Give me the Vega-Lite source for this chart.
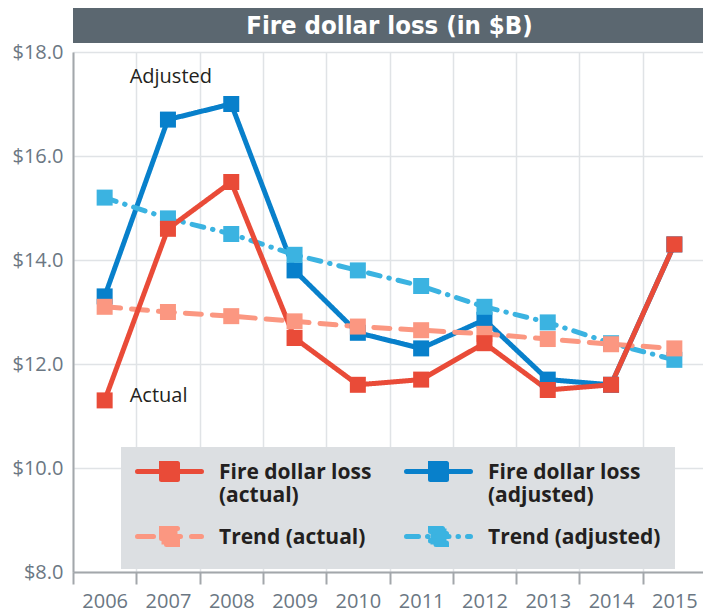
{
  "$schema": "https://vega.github.io/schema/vega-lite/v6.json",
  "width": 633,
  "height": 520,
  "autosize": {"type": "none"},
  "padding": {"left": 73, "top": 52, "right": 0, "bottom": 41},
  "background": "white",
  "config": {"font": "Open Sans", "view": {"stroke": null}},
  "datasets": {
    "series": [
      {"year": "2006", "series": "Fire dollar loss (adjusted)", "value": 13.3},
      {"year": "2007", "series": "Fire dollar loss (adjusted)", "value": 16.7},
      {"year": "2008", "series": "Fire dollar loss (adjusted)", "value": 17.0},
      {"year": "2009", "series": "Fire dollar loss (adjusted)", "value": 13.8},
      {"year": "2010", "series": "Fire dollar loss (adjusted)", "value": 12.6},
      {"year": "2011", "series": "Fire dollar loss (adjusted)", "value": 12.3},
      {"year": "2012", "series": "Fire dollar loss (adjusted)", "value": 12.85},
      {"year": "2013", "series": "Fire dollar loss (adjusted)", "value": 11.7},
      {"year": "2014", "series": "Fire dollar loss (adjusted)", "value": 11.6},
      {"year": "2015", "series": "Fire dollar loss (adjusted)", "value": 14.3},
      {"year": "2006", "series": "Trend (adjusted)", "value": 15.2},
      {"year": "2007", "series": "Trend (adjusted)", "value": 14.8},
      {"year": "2008", "series": "Trend (adjusted)", "value": 14.5},
      {"year": "2009", "series": "Trend (adjusted)", "value": 14.1},
      {"year": "2010", "series": "Trend (adjusted)", "value": 13.8},
      {"year": "2011", "series": "Trend (adjusted)", "value": 13.5},
      {"year": "2012", "series": "Trend (adjusted)", "value": 13.1},
      {"year": "2013", "series": "Trend (adjusted)", "value": 12.8},
      {"year": "2014", "series": "Trend (adjusted)", "value": 12.4},
      {"year": "2015", "series": "Trend (adjusted)", "value": 12.08},
      {"year": "2006", "series": "Trend (actual)", "value": 13.1},
      {"year": "2007", "series": "Trend (actual)", "value": 13.0},
      {"year": "2008", "series": "Trend (actual)", "value": 12.92},
      {"year": "2009", "series": "Trend (actual)", "value": 12.82},
      {"year": "2010", "series": "Trend (actual)", "value": 12.72},
      {"year": "2011", "series": "Trend (actual)", "value": 12.65},
      {"year": "2012", "series": "Trend (actual)", "value": 12.58},
      {"year": "2013", "series": "Trend (actual)", "value": 12.48},
      {"year": "2014", "series": "Trend (actual)", "value": 12.38},
      {"year": "2015", "series": "Trend (actual)", "value": 12.3},
      {"year": "2006", "series": "Fire dollar loss (actual)", "value": 11.3},
      {"year": "2007", "series": "Fire dollar loss (actual)", "value": 14.6},
      {"year": "2008", "series": "Fire dollar loss (actual)", "value": 15.5},
      {"year": "2009", "series": "Fire dollar loss (actual)", "value": 12.5},
      {"year": "2010", "series": "Fire dollar loss (actual)", "value": 11.6},
      {"year": "2011", "series": "Fire dollar loss (actual)", "value": 11.7},
      {"year": "2012", "series": "Fire dollar loss (actual)", "value": 12.4},
      {"year": "2013", "series": "Fire dollar loss (actual)", "value": 11.5},
      {"year": "2014", "series": "Fire dollar loss (actual)", "value": 11.6},
      {"year": "2015", "series": "Fire dollar loss (actual)", "value": 14.3}
    ]
  },
  "layer": [
    {
      "data": {"values": [{"t": "Fire dollar loss (in $B)"}]},
      "mark": {"type": "rect", "color": "#5b6770"},
      "encoding": {
        "y": {"datum": 18.846, "type": "quantitative"},
        "y2": {"datum": 18.173}
      }
    },
    {
      "data": {"values": [{"t": "Fire dollar loss (in $B)"}]},
      "mark": {"type": "text", "color": "white", "fontSize": 25.5, "fontWeight": "bold", "font": "'DejaVu Sans Condensed', Roboto", "baseline": "middle", "align": "center"},
      "encoding": {
        "y": {"datum": 18.5, "type": "quantitative"},
        "text": {"field": "t"}
      }
    },
    {
      "data": {"name": "series"},
      "mark": {"type": "line", "strokeWidth": 5, "strokeCap": "round"},
      "encoding": {
        "x": {
          "field": "year", "type": "ordinal",
          "scale": {"type": "band", "paddingInner": 0, "paddingOuter": 0},
          "axis": {
            "title": null, "tickBand": "extent", "labelAngle": 0,
            "domainColor": "#a3a7ab", "domainWidth": 2,
            "tickColor": "#a3a7ab", "tickWidth": 2, "tickSize": 12,
            "labelFontSize": 20, "labelColor": "#6b7783", "labelPadding": 7,
            "grid": true, "gridColor": "#e0e3e6", "gridWidth": 1.5
          }
        },
        "y": {
          "field": "value", "type": "quantitative",
          "scale": {"domain": [8, 18], "nice": false, "zero": false},
          "axis": {
            "title": null, "values": [8, 10, 12, 14, 16, 18], "format": "$.1f",
            "ticks": false, "labelPadding": 10,
            "domainColor": "#a3a7ab", "domainWidth": 2,
            "labelFontSize": 20, "labelColor": "#6b7783",
            "grid": true, "gridColor": "#e0e3e6", "gridWidth": 1.5
          }
        },
        "color": {
          "field": "series", "type": "nominal",
          "scale": {
            "domain": ["Fire dollar loss (actual)", "Trend (actual)", "Fire dollar loss (adjusted)", "Trend (adjusted)"],
            "range": ["#e94b38", "#fb9781", "#0880cb", "#3bb3e1"]
          },
          "legend": {
            "orient": "none", "legendX": 48, "legendY": 395,
            "columns": 2, "title": null,
            "fillColor": "#dcdfe2", "padding": 14,
            "symbolType": "M-4,0L4,0M-1,-1H1V1H-1Z",
            "symbolSize": 256, "symbolStrokeWidth": 5, "symbolOffset": 24,
            "labelFontSize": 21, "labelFontWeight": "bold", "labelColor": "#231f20",
            "labelOffset": 39, "columnPadding": 24, "rowPadding": 12, "labelLimit": 300,
            "labelBaseline": "alphabetic",
            "labelExpr": "split(replace(datum.label, 'loss (', 'loss|('), '|')",
            "encode": {
              "symbols": {"update": {"fill": {"scale": "color", "field": "value"}, "strokeCap": {"value": "round"}}},
              "labels": {"update": {"dy": {"value": 7.5}}}
            }
          }
        },
        "strokeDash": {
          "field": "series", "type": "nominal",
          "scale": {
            "domain": ["Fire dollar loss (actual)", "Trend (actual)", "Fire dollar loss (adjusted)", "Trend (adjusted)"],
            "range": [[1, 0], [16, 11], [1, 0], [12, 9, 0.5, 9]]
          }
        }
      }
    },
    {
      "data": {"name": "series"},
      "mark": {"type": "point", "shape": "square", "filled": true, "size": 256, "opacity": 1},
      "encoding": {
        "x": {"field": "year", "type": "ordinal"},
        "y": {"field": "value", "type": "quantitative"},
        "color": {"field": "series", "type": "nominal", "legend": null}
      }
    },
    {
      "data": {"values": [
        {"label": "Adjusted", "year": "2006", "value": 17.52},
        {"label": "Actual", "year": "2006", "value": 11.385}
      ]},
      "mark": {"type": "text", "align": "left", "baseline": "middle", "dx": 25, "fontSize": 20, "color": "#231f20"},
      "encoding": {
        "x": {"field": "year", "type": "ordinal"},
        "y": {"field": "value", "type": "quantitative"},
        "text": {"field": "label"}
      }
    }
  ]
}
